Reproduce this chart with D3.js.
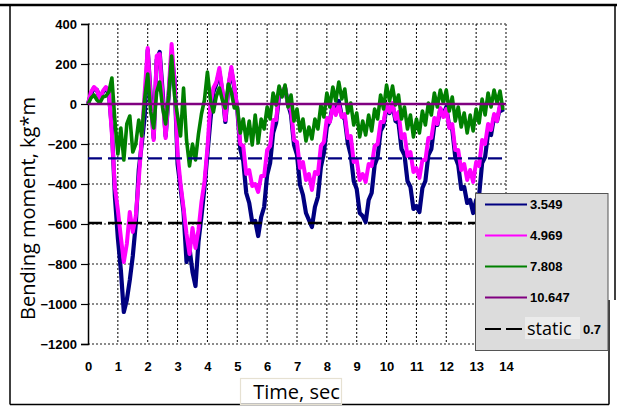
<!DOCTYPE html>
<html><head><meta charset="utf-8">
<script src="https://cdn.jsdelivr.net/npm/d3@7"></script>
<style>body{margin:0;background:#fff;} svg{display:block;}</style>
</head><body>
<svg id="chart" width="617" height="408"></svg>
<script>
// ---- data ----
const xTickValues = [0,1,2,3,4,5,6,7,8,9,10,11,12,13,14];
const yTickValues = [-1200,-1000,-800,-600,-400,-200,0,200,400];
const legendLabels = ["3.549","4.969","7.808","10.647"];
const seriesColors = ["#000080","#ff00ff","#008000","#800080"];
const sampleStep = 0.1; // seconds between samples
// bending moment, kg*m, sampled every 0.1 s from t = 0
const moment3549 = [0,50,80,70,25,60,80,50,-120,-460,
  -670,-830,-1040,-980,-880,-760,-600,-330,-200,-60,
  270,40,-170,220,260,60,-160,40,240,120,
  -300,-420,-540,-790,-720,-840,-910,-690,-560,-420,
  -250,-80,60,100,160,60,-90,80,170,80,
  -25,-225,-285,-445,-495,-590,-585,-660,-565,-515,
  -355,-295,-145,-95,40,60,80,0,-55,-205,
  -255,-405,-455,-545,-580,-615,-515,-465,-315,-245,
  -115,-85,-5,-45,15,-60,-75,-195,-255,-385,
  -425,-545,-560,-590,-480,-445,-305,-265,-135,-105,
  -15,-45,-5,-85,-95,-225,-255,-385,-415,-525,
  -510,-540,-420,-385,-255,-225,-105,-105,-25,-55,
  -15,-115,-125,-265,-305,-425,-415,-495,-480,-545,
  -480,-455,-295,-265,-145,-155,-65,-85,-15,-40];
const moment4969 = [0,60,85,70,25,65,85,60,-150,-415,
  -530,-665,-790,-700,-540,-640,-560,-380,-170,60,
  280,20,-180,240,250,30,-170,60,300,110,
  -250,-400,-520,-650,-750,-620,-720,-630,-490,-390,
  -220,0,80,110,180,70,-80,90,185,90,
  -20,-200,-210,-350,-330,-410,-400,-440,-360,-360,
  -230,-210,-80,-80,60,60,85,-10,-30,-180,
  -190,-320,-290,-380,-350,-430,-340,-350,-210,-190,
  -70,-90,-10,-55,-5,-65,-50,-170,-160,-290,
  -280,-380,-350,-390,-300,-310,-210,-200,-90,-90,
  0,-40,5,-75,-40,-170,-150,-260,-240,-340,
  -320,-370,-280,-280,-170,-170,-70,-100,-20,-65,
  -25,-120,-100,-230,-230,-330,-300,-380,-330,-390,
  -290,-310,-180,-200,-100,-130,-50,-85,0,-20];
const moment7808 = [0,30,45,20,5,35,40,60,130,-80,
  -250,-120,-280,-100,-60,-240,-200,-80,-160,30,
  150,-40,-120,60,110,-20,-100,40,240,40,
  -60,-160,80,-180,-310,-200,-280,-150,-50,20,
  160,20,-40,40,80,20,-20,100,60,-20,
  -15,-145,-75,-185,-85,-205,-55,-195,-75,-125,
  -15,-75,55,-5,90,35,95,-15,45,-85,
  -25,-135,-75,-185,-115,-175,-75,-125,-5,-65,
  55,-15,85,15,110,25,75,-45,5,-105,
  -45,-165,-85,-155,-55,-135,-25,-75,45,-25,
  95,15,90,-5,45,-75,-15,-125,-55,-165,
  -75,-145,-35,-105,5,-55,55,-15,70,5,
  70,-35,35,-85,-15,-115,-45,-145,-55,-135,
  -25,-95,25,-55,55,-15,70,5,65,-30];
const moment10647 = [0,0];
const moment10647Times = [0,14];
const staticLevels = [-272,-595];
const staticColors = ["#000080","#000000"];
const staticLabel = "static";
const staticValue = "0.7";
const xTitle = "Time, sec";
const yTitle = "Bending moment, kg*m";

// ---- drawing ----
const svg = d3.select("#chart");
const x = d3.scaleLinear().domain([0,14]).range([88,506]);
const y = d3.scaleLinear().domain([-1200,400]).range([344,24]);
const numFont = "'Liberation Sans', Arial, sans-serif";
const titleFont = "'Open Sans', sans-serif";

svg.append("rect").attr("width",617).attr("height",408).attr("fill","#fff");

// outer frame
svg.append("line").attr("x1",0).attr("x2",617).attr("y1",5).attr("y2",5).attr("stroke","#000").attr("stroke-width",2.5);
svg.append("line").attr("x1",10).attr("x2",10).attr("y1",5).attr("y2",404.5).attr("stroke","#000").attr("stroke-width",1.5);
svg.append("line").attr("x1",10).attr("x2",609).attr("y1",404.5).attr("y2",404.5).attr("stroke","#000").attr("stroke-width",1.5);
svg.append("line").attr("x1",609).attr("x2",609).attr("y1",300).attr("y2",404.5).attr("stroke","#000").attr("stroke-width",1.5);
svg.append("line").attr("x1",615).attr("x2",615).attr("y1",5).attr("y2",300).attr("stroke","#000").attr("stroke-width",1.5);

// horizontal grid
svg.append("g").selectAll("line").data(yTickValues).join("line")
  .attr("x1",x(0)).attr("x2",x(14)).attr("y1",d=>y(d)).attr("y2",d=>y(d))
  .attr("stroke","#666").attr("stroke-width",1.6).attr("stroke-dasharray","2,2");
// vertical grid
svg.append("g").selectAll("line").data(xTickValues.filter(d=>d>0)).join("line")
  .attr("x1",d=>x(d)).attr("x2",d=>x(d)).attr("y1",y(400)).attr("y2",y(-1200))
  .attr("stroke",d=>d===14?"#666":"#000").attr("stroke-width",d=>d===14?1.6:1).attr("stroke-dasharray","2,2");

// y axis
const yAxis = d3.axisLeft(y).tickValues(yTickValues).tickFormat(d3.format("d")).tickSize(7).tickPadding(4);
const gy = svg.append("g").attr("transform",`translate(${x(0)},0)`).call(yAxis);
gy.select(".domain").attr("stroke","#000").attr("stroke-width",1.5);
gy.selectAll(".tick line").attr("stroke","#000").attr("stroke-width",1.2);
gy.selectAll(".tick text").attr("font-family",numFont).attr("font-weight","bold").attr("font-size",13).attr("fill","#000");

// x axis labels
const xAxis = d3.axisBottom(x).tickValues(xTickValues).tickFormat(d3.format("d")).tickSize(0).tickPadding(18);
const gx = svg.append("g").attr("transform",`translate(0,${y(-1200)})`).call(xAxis);
gx.select(".domain").remove();
gx.selectAll(".tick text").attr("font-family",numFont).attr("font-weight","bold").attr("font-size",13).attr("fill","#000");

// series
const line = d3.line().x(d=>x(d[0])).y(d=>y(d[1]));
const toPts = arr => arr.map((v,i)=>[i*sampleStep, v]);
const seriesData = [toPts(moment3549), toPts(moment4969), toPts(moment7808),
  moment10647.map((v,i)=>[moment10647Times[i], v])];
const widths = [4.2,4,3.6,2.6];
seriesData.forEach((pts,i)=>{
  svg.append("path").attr("d",line(pts)).attr("fill","none")
    .attr("stroke",seriesColors[i]).attr("stroke-width",widths[i]).attr("stroke-linejoin","round");
});

// static dashed lines
svg.append("g").selectAll("line").data(staticLevels).join("line")
  .attr("x1",x(0)).attr("x2",x(14)).attr("y1",d=>y(d)).attr("y2",d=>y(d))
  .attr("stroke",(d,i)=>staticColors[i]).attr("stroke-width",2.4).attr("stroke-dasharray","14,6");

// legend
const lg = svg.append("g");
lg.append("rect").attr("x",475.5).attr("y",193.5).attr("width",132.5).attr("height",157)
  .attr("fill","#dcdcdc").attr("stroke","#555").attr("stroke-width",1);
const rowY = [204.5,235.5,266.5,297.5,329];
legendLabels.forEach((lab,i)=>{
  lg.append("line").attr("x1",485).attr("x2",527).attr("y1",rowY[i]).attr("y2",rowY[i])
    .attr("stroke",seriesColors[i]).attr("stroke-width",2);
  lg.append("text").attr("x",530).attr("y",rowY[i]).attr("dy","0.36em")
    .attr("font-family",numFont).attr("font-weight","bold").attr("font-size",13).text(lab);
});
lg.append("line").attr("x1",485).attr("x2",522).attr("y1",rowY[4]).attr("y2",rowY[4])
  .attr("stroke","#000").attr("stroke-width",2).attr("stroke-dasharray","16,5");
lg.append("rect").attr("x",525).attr("y",317).attr("width",55).attr("height",22).attr("fill","#ebebeb");
lg.append("text").attr("x",527).attr("y",335).attr("font-family",titleFont).attr("font-size",18).text(staticLabel);
lg.append("text").attr("x",583).attr("y",rowY[4]).attr("dy","0.36em")
  .attr("font-family",numFont).attr("font-weight","bold").attr("font-size",13).text(staticValue);

// titles
svg.append("rect").attr("x",240.5).attr("y",378.5).attr("width",101).attr("height",26)
  .attr("fill","none").attr("stroke","#e6e1d2").attr("stroke-width",1.2);
svg.append("text").attr("x",296.5).attr("y",399).attr("text-anchor","middle")
  .attr("font-family",titleFont).attr("font-size",20).text(xTitle);
svg.append("text").attr("transform","translate(35,208.5) rotate(-90)").attr("text-anchor","middle")
  .attr("font-family",titleFont).attr("font-size",20).text(yTitle);
</script>
</body></html>
